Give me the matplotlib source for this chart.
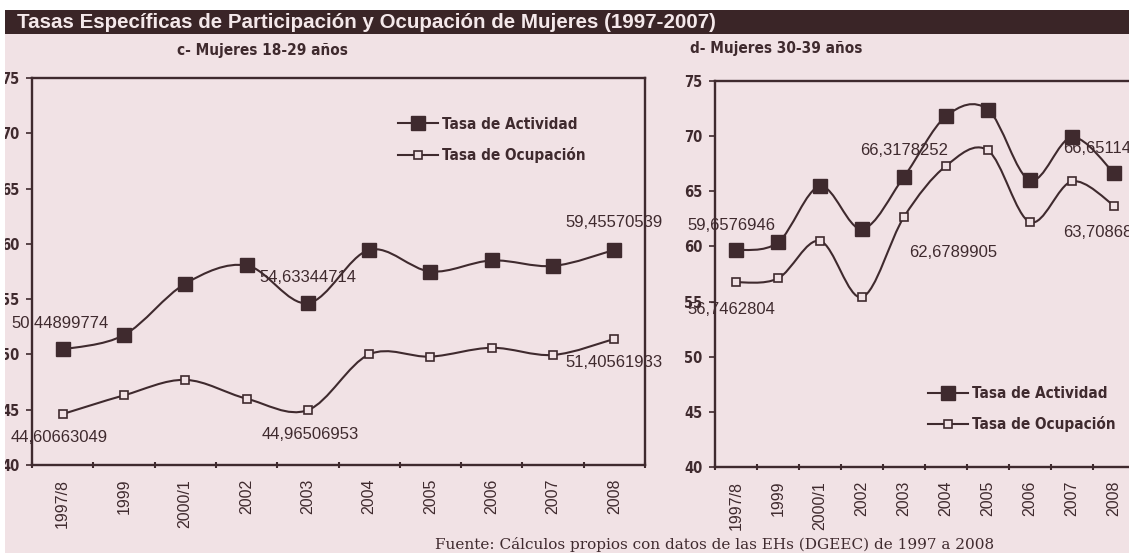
import numpy as np
import matplotlib
matplotlib.use('Agg')
import matplotlib.pyplot as plt
from matplotlib.path import Path
from matplotlib.patches import PathPatch, Rectangle
from matplotlib.lines import Line2D

# ---------------- data ----------------
categories = ['1997/8', '1999', '2000/1', '2002', '2003', '2004', '2005', '2006', '2007', '2008']
act_18_29 = [50.44899774, 51.75, 56.4, 58.05, 54.63344714, 59.45, 57.5, 58.5, 58.0, 59.45570539]
ocu_18_29 = [44.60663049, 46.3, 47.7, 46.0, 44.96506953, 50.0, 49.8, 50.6, 49.95, 51.40561933]
act_30_39 = [59.6576946, 60.36, 65.45, 61.58, 66.3178252, 71.8, 72.4, 66.0, 69.9, 66.651149]
ocu_30_39 = [56.7462804, 57.1, 60.5, 55.4, 62.6789905, 67.3, 68.7, 62.2, 65.9, 63.708689]

labels_18_29_idx = [0, 4, 9]
labels_30_39_idx = [0, 4, 9]
series_names = ['Tasa de Actividad', 'Tasa de Ocupación']
yticks = [40, 45, 50, 55, 60, 65, 70, 75]

title = 'Tasas Específicas de Participación y Ocupación de Mujeres (1997-2007)'
sub_c = 'c- Mujeres 18-29 años'
sub_d = 'd- Mujeres 30-39 años'
footer = 'Fuente: Cálculos propios con datos de las EHs (DGEEC) de 1997 a 2008'

# ---------------- style ----------------
BG = '#f1e2e5'
INK = '#3f2a2e'
BAR = '#3a2527'
SANS = ['Liberation Sans', 'DejaVu Sans']
COND = ['DejaVu Sans']

W, H = 1129, 553
fig = plt.figure(figsize=(W / 100, H / 100), dpi=100, facecolor=BG)

# white strips + title bar
fig.patches.append(Rectangle((0, 1 - 10 / H), 1, 10 / H, transform=fig.transFigure,
                             facecolor='white', edgecolor='none', zorder=0))
fig.patches.append(Rectangle((0, 0), 5 / W, 1, transform=fig.transFigure,
                             facecolor='white', edgecolor='none', zorder=0))
fig.patches.append(Rectangle((5 / W, 1 - 34 / H), 1, 24 / H, transform=fig.transFigure,
                             facecolor=BAR, edgecolor='none', zorder=0))
fig.text(17 / W, 1 - 22 / H, title, color='#f4e8ea', fontsize=14.8, fontweight='bold',
         family=SANS, ha='left', va='center')
fig.text(262 / W, 1 - 50 / H, sub_c, color=INK, fontsize=11, fontweight='bold',
         fontstretch='condensed', family=COND, ha='center', va='center')
fig.text(776 / W, 1 - 48 / H, sub_d, color=INK, fontsize=11, fontweight='bold',
         fontstretch='condensed', family=COND, ha='center', va='center')
fig.text(715 / W, 1 - 545 / H, footer, color=INK, fontsize=11,
         family=['DejaVu Serif'], ha='center', va='center')


def px_axes(x0, x1, y0, y1):
    return fig.add_axes([x0 / W, 1 - y1 / H, (x1 - x0) / W, (y1 - y0) / H])


def smooth_path(ys):
    xs = np.arange(len(ys), dtype=float)
    pts = np.column_stack([xs, np.asarray(ys, dtype=float)])
    n = len(pts)
    verts = [pts[0]]
    codes = [Path.MOVETO]
    for i in range(n - 1):
        p0 = pts[i - 1] if i > 0 else pts[i]
        p1 = pts[i]
        p2 = pts[i + 1]
        p3 = pts[i + 2] if i + 2 < n else pts[i + 1]
        c1 = p1 + (p2 - p0) / 6.0
        c2 = p2 - (p3 - p1) / 6.0
        verts += [c1, c2, p2]
        codes += [Path.CURVE4] * 3
    return Path(verts, codes)


def fmt(v):
    return repr(v).replace('.', ',')


def style_axes(ax):
    ax.set_facecolor('none')
    ax.set_xlim(-0.5, len(categories) - 0.5)
    ax.set_ylim(40, 75)
    ax.set_yticks(yticks)
    ax.set_yticklabels([str(t) for t in yticks], family=COND, fontsize=10.5,
                       fontweight='bold', fontstretch='condensed', color=INK)
    ax.set_xticks(range(len(categories)))
    ax.set_xticklabels(categories, rotation=90, family=SANS, fontsize=11.5, color=INK)
    ax.set_xticks(np.arange(-0.5, len(categories), 1.0), minor=True)
    ax.tick_params(axis='x', which='major', length=0, pad=10)
    ax.tick_params(axis='x', which='minor', length=5, width=1.5, color=INK, direction='inout')
    ax.tick_params(axis='y', length=4, width=1.2, color=INK, pad=5)
    for s in ax.spines.values():
        s.set_color(INK)
        s.set_linewidth(1.7)


def draw_series(ax, act, ocu, lab_idx, act_off, ocu_off):
    ax.add_patch(PathPatch(smooth_path(act), facecolor='none', edgecolor=INK, lw=1.5, zorder=2))
    ax.add_patch(PathPatch(smooth_path(ocu), facecolor='none', edgecolor=INK, lw=1.5, zorder=2))
    x = np.arange(len(categories))
    ax.plot(x, act, ls='none', marker='s', ms=9.5, mfc=INK, mec=INK, zorder=3)
    ax.plot(x, ocu, ls='none', marker='s', ms=5.8, mfc=BG, mec=INK, mew=1.2, zorder=3)
    for k, i in enumerate(lab_idx):
        ax.annotate(fmt(act[i]), (i, act[i]), xytext=act_off[k], textcoords='offset pixels',
                    ha='center', va='center', family=SANS, fontsize=12, color=INK,
                    annotation_clip=False)
        ax.annotate(fmt(ocu[i]), (i, ocu[i]), xytext=ocu_off[k], textcoords='offset pixels',
                    ha='center', va='center', family=SANS, fontsize=12, color=INK,
                    annotation_clip=False)


def add_legend(ax, anchor):
    handles = [Line2D([], [], color=INK, lw=1.5, marker='s', ms=9.5, mfc=INK, mec=INK),
               Line2D([], [], color=INK, lw=1.5, marker='s', ms=5.8, mfc=BG, mec=INK, mew=1.2)]
    ax.legend(handles, series_names, loc='upper left', bbox_to_anchor=anchor, frameon=False,
              prop={'family': COND, 'weight': 'bold', 'size': 11, 'stretch': 'condensed'},
              labelcolor=INK, handlelength=2.6, handletextpad=0.3, labelspacing=1.0,
              borderpad=0, borderaxespad=0)


# left chart
axL = px_axes(32, 645, 78, 465)
style_axes(axL)
draw_series(axL, act_18_29, ocu_18_29, labels_18_29_idx,
            [(-3, 26), (0, 26), (0, 27)], [(-3, -23), (2, -24), (0, -24)])
add_legend(axL, (0.597, 0.90))

# right chart (cut by the page edge)
axR = px_axes(715, 1135, 81, 467)
style_axes(axR)
axR.spines['right'].set_visible(False)
draw_series(axR, act_30_39, ocu_30_39, labels_30_39_idx,
            [(-5, 25), (0, 26), (-12, 25)], [(-5, -27), (49, -36), (-12, -27)])
add_legend(axR, (0.507, 0.21))

fig.savefig('out.png', dpi=100, facecolor=BG)
